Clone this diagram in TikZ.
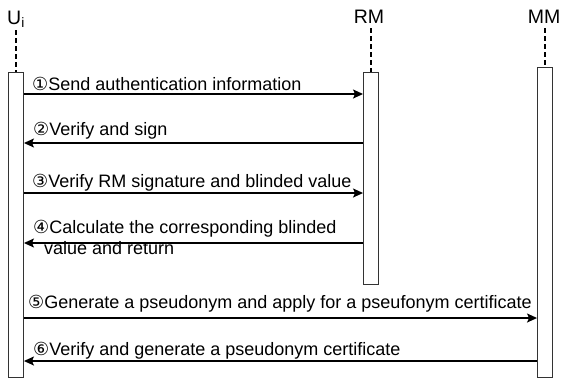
\documentclass[tikz,border=0pt]{standalone}
\usepackage{fontspec}
\setmainfont{Liberation Sans}
\newfontfamily\circfont{DejaVu Sans}
\usetikzlibrary{arrows.meta}
\newcommand{\cn}[1]{{\circfont\fontsize{18}{20}\selectfont #1}}
\begin{document}
\begin{tikzpicture}[x=1pt,y=-1pt,
  actbox/.style={draw=black!80,line width=0.9pt,fill=white,minimum width=15pt,inner sep=0pt,anchor=north},
  lifeline/.style={draw=black,line width=2pt,dash pattern=on 4.5pt off 3.5pt},
  msg/.style={draw=black,line width=1.4pt,-{Stealth[length=10pt,width=9pt,inset=2pt]}},
  msgtext/.style={anchor=base west,inner sep=0pt,font=\fontsize{18}{21}\selectfont},
  actor/.style={anchor=base,inner sep=0pt,font=\fontsize{19.5}{22}\selectfont}]
\useasboundingbox (0,0) rectangle (561,381);
% actors
\node[actor] (ulab) at (16,24) {U\textsubscript{i}};
\node[actor] (rmlab) at (369,23) {RM};
\node[actor] (mmlab) at (544,23) {MM};
% activation boxes
\node[actbox,minimum height=305pt] (ubox) at (16,72) {};
\node[actbox,minimum height=212pt] (rmbox) at (371,72) {};
\node[actbox,minimum height=310pt] (mmbox) at (545,67) {};
% lifelines
\draw[lifeline] (ubox.north |- 0,30) -- (ubox.north);
\draw[lifeline] (rmbox.north |- 0,28) -- (rmbox.north);
\draw[lifeline] (mmbox.north |- 0,28) -- (mmbox.north);
% messages
\draw[msg] (ubox.east |- 0,94) -- (rmbox.west |- 0,94);
\node[msgtext] (m1) at (32,90) {\cn{①}Send authentication information};
\draw[msg] (rmbox.west |- 0,143) -- (ubox.east |- 0,143);
\node[msgtext] (m2) at (33,135) {\cn{②}Verify and sign};
\draw[msg] (ubox.east |- 0,193) -- (rmbox.west |- 0,193);
\node[msgtext] (m3) at (32,187) {\cn{③}Verify RM signature and blinded value};
\draw[msg] (rmbox.west |- 0,243) -- (ubox.east |- 0,243);
\node[msgtext,align=left] (m4) at (33,254) {\cn{④}Calculate the corresponding blinded\\\hspace{11pt}value and return};
\draw[msg] (ubox.east |- 0,318) -- (mmbox.west |- 0,318);
\node[msgtext] (m5) at (28,308) {\cn{⑤}Generate a pseudonym and apply for a pseufonym certificate};
\draw[msg] (mmbox.west |- 0,361) -- (ubox.east |- 0,361);
\node[msgtext] (m6) at (33,355) {\cn{⑥}Verify and generate a pseudonym certificate};
\end{tikzpicture}
\end{document}
